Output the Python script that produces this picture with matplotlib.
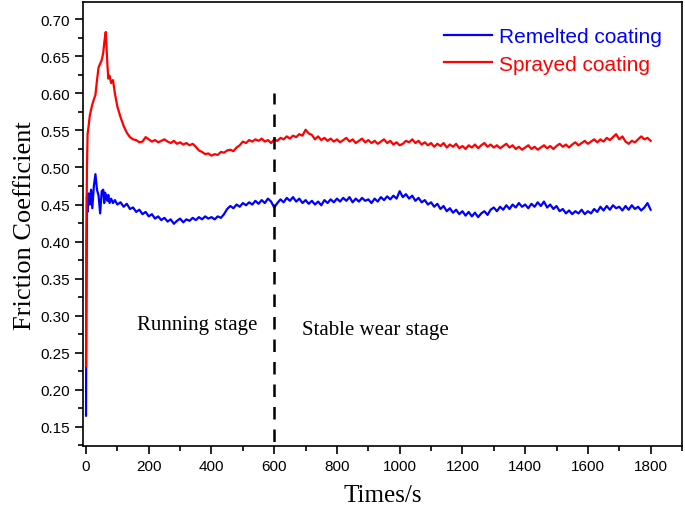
import matplotlib.pyplot as plt
from matplotlib.ticker import MultipleLocator
import numpy as np

# sampling times: dense over the first 100 s, then every 10 s
early_t = [0, 1, 3, 5, 8, 12, 16, 20, 25, 30, 35, 40, 45, 50, 55, 58, 61, 63,
           65, 68, 71, 75, 80, 86, 92, 100]
times = np.array(early_t + list(range(110, 1810, 10)))

sprayed = [
    0.232, 0.400, 0.500, 0.545, 0.555, 0.570, 0.578, 0.585, 0.592, 0.598, 0.618, 0.635, 0.640,
    0.645, 0.655, 0.668, 0.678, 0.683, 0.665, 0.640, 0.620, 0.624, 0.614, 0.618, 0.600, 0.582,
    0.568, 0.556, 0.547, 0.541, 0.538, 0.537, 0.534, 0.535, 0.541, 0.538,
    0.535, 0.537, 0.534, 0.536, 0.538, 0.535, 0.533, 0.536, 0.532, 0.534,
    0.531, 0.533, 0.530, 0.532, 0.528, 0.523, 0.521, 0.518, 0.519, 0.516,
    0.518, 0.517, 0.521, 0.520, 0.523, 0.524, 0.522, 0.527, 0.530, 0.535,
    0.533, 0.537, 0.535, 0.538, 0.536, 0.539, 0.535, 0.537, 0.533, 0.538,
    0.536, 0.540, 0.538, 0.542, 0.539, 0.543, 0.541, 0.545, 0.543, 0.551,
    0.546, 0.544, 0.538, 0.542, 0.537, 0.540, 0.536, 0.539, 0.535, 0.538,
    0.534, 0.537, 0.540, 0.535, 0.538, 0.533, 0.536, 0.539, 0.534, 0.537,
    0.533, 0.536, 0.532, 0.535, 0.538, 0.533, 0.536, 0.531, 0.534, 0.530,
    0.532, 0.536, 0.534, 0.538, 0.533, 0.536, 0.531, 0.534, 0.530, 0.533,
    0.528, 0.532, 0.529, 0.533, 0.527, 0.531, 0.528, 0.532, 0.526, 0.529,
    0.525, 0.530, 0.527, 0.531, 0.526, 0.530, 0.533, 0.528, 0.531, 0.527,
    0.530, 0.526, 0.529, 0.532, 0.527, 0.530, 0.525, 0.528, 0.524, 0.527,
    0.530, 0.525, 0.528, 0.524, 0.527, 0.530, 0.526, 0.529, 0.525, 0.529,
    0.532, 0.528, 0.531, 0.527, 0.531, 0.534, 0.530, 0.533, 0.536, 0.532,
    0.535, 0.538, 0.534, 0.538, 0.535, 0.540, 0.537, 0.541, 0.545, 0.538,
    0.542, 0.535, 0.532, 0.536, 0.534, 0.538, 0.542, 0.538, 0.540, 0.536,
]

remelted = [
    0.165, 0.300, 0.460, 0.440, 0.465, 0.450, 0.470, 0.445, 0.475, 0.491, 0.470, 0.462, 0.438,
    0.468, 0.470, 0.452, 0.466, 0.458, 0.462, 0.455, 0.463, 0.452, 0.458, 0.452, 0.456, 0.450,
    0.453, 0.447, 0.451, 0.444, 0.446, 0.440, 0.443, 0.437, 0.440, 0.434,
    0.437, 0.431, 0.434, 0.429, 0.432, 0.427, 0.430, 0.424, 0.428, 0.431,
    0.426, 0.430, 0.428, 0.432, 0.429, 0.433, 0.430, 0.434, 0.431, 0.433,
    0.430, 0.434, 0.432, 0.437, 0.444, 0.448, 0.445, 0.450, 0.447, 0.452,
    0.449, 0.453, 0.450, 0.455, 0.451, 0.456, 0.452, 0.458, 0.454, 0.446,
    0.452, 0.457, 0.453, 0.459, 0.455, 0.460, 0.454, 0.458, 0.452, 0.456,
    0.451, 0.455, 0.450, 0.454, 0.449, 0.456, 0.452, 0.457, 0.453, 0.458,
    0.454, 0.459, 0.455, 0.460, 0.453, 0.458, 0.454, 0.459, 0.455, 0.457,
    0.452, 0.458, 0.454, 0.460, 0.456, 0.461, 0.457, 0.462, 0.458, 0.468,
    0.460, 0.464, 0.458, 0.462, 0.455, 0.459, 0.453, 0.456, 0.450, 0.453,
    0.447, 0.451, 0.444, 0.448, 0.441, 0.445, 0.439, 0.443, 0.437, 0.441,
    0.435, 0.440, 0.434, 0.439, 0.433, 0.438, 0.441, 0.436, 0.443, 0.446,
    0.441, 0.447, 0.443, 0.449, 0.444, 0.450, 0.446, 0.452, 0.447, 0.450,
    0.445, 0.451, 0.447, 0.453, 0.448, 0.454, 0.446, 0.450, 0.444, 0.448,
    0.441, 0.444, 0.438, 0.442, 0.437, 0.441, 0.438, 0.443, 0.437, 0.441,
    0.438, 0.444, 0.440, 0.447, 0.442, 0.448, 0.443, 0.449, 0.445, 0.447,
    0.442, 0.448, 0.443, 0.449, 0.444, 0.447, 0.442, 0.446, 0.452, 0.443,
]

stage_split = 600
stage_labels = ["Running stage", "Stable wear stage"]

serif = "Liberation Serif"
sans = "Liberation Sans"

fig = plt.figure(figsize=(6.85, 5.1), dpi=100)
ax = fig.add_axes([0.121, 0.1235, 0.8746, 0.870])

ax.plot(times, remelted, color="#0000ff", lw=1.6, label="Remelted coating")
ax.plot(times, sprayed, color="#ff0000", lw=1.6, label="Sprayed coating")

ax.plot([stage_split, stage_split], [0.10, 0.60], color="black", lw=1.8,
        dashes=(5, 4))

ax.text(354, 0.288, stage_labels[0], family=serif, fontsize=15,
        ha="center", va="center")
ax.text(924, 0.281, stage_labels[1], family=serif, fontsize=15,
        ha="center", va="center")

ax.set_xlim(-10, 1900)
ax.set_ylim(0.124, 0.723)
ax.xaxis.set_major_locator(MultipleLocator(200))
ax.xaxis.set_minor_locator(MultipleLocator(100))
ax.yaxis.set_major_locator(MultipleLocator(0.05))
ax.yaxis.set_minor_locator(MultipleLocator(0.025))
ax.yaxis.set_major_formatter(plt.FormatStrFormatter("%.2f"))
ax.tick_params(which="both", direction="out", width=1.2, top=False, right=False)
ax.tick_params(which="major", length=6, labelsize=11)
ax.tick_params(which="minor", length=3.5)
for lab in ax.get_xticklabels() + ax.get_yticklabels():
    lab.set_family(sans)
for sp in ax.spines.values():
    sp.set_linewidth(1.2)

ax.set_xlabel("Times/s", family=serif, fontsize=18, labelpad=8)
ax.set_ylabel("Friction Coefficient", family=serif, fontsize=19, labelpad=3)

ax.legend(loc="upper left", bbox_to_anchor=(0.585, 0.967), frameon=False,
          prop={"family": sans, "size": 15}, labelcolor="linecolor",
          handlelength=2.3, handletextpad=0.35, labelspacing=0.4, borderpad=0)

fig.savefig("out.png", dpi=100)
